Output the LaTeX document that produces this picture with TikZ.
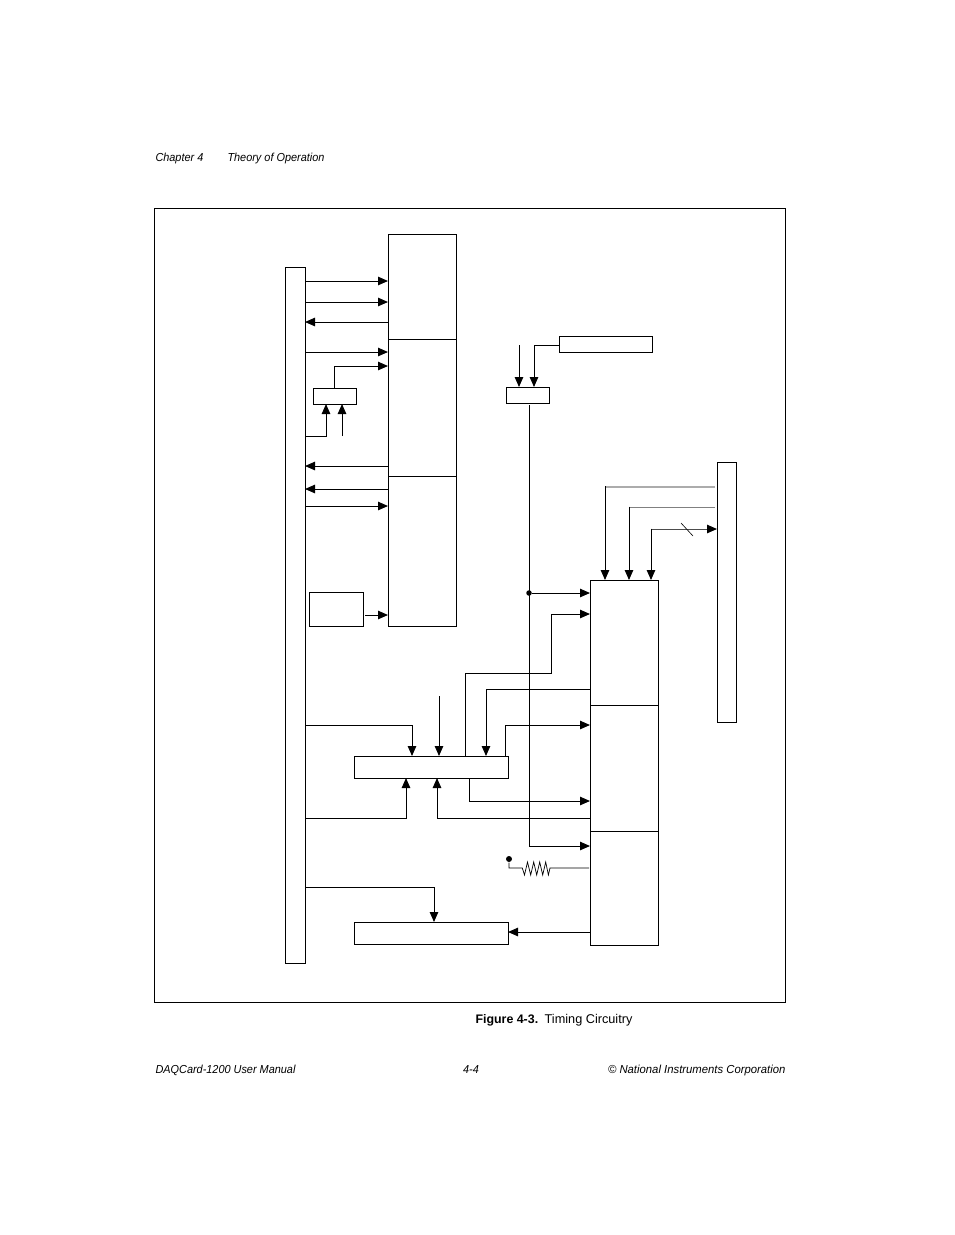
\documentclass[tikz,border=0pt]{standalone}
\usepackage{fontspec}
\setmainfont{Liberation Sans}
\newfontfamily\pagefont[FakeStretch=0.94]{Liberation Sans}
\newfontfamily\corpfont[FakeStretch=0.975]{Liberation Sans}
\usetikzlibrary{arrows.meta,positioning}
\tikzset{
  blk/.style={draw,inner sep=0pt,outer sep=0pt,anchor=north west},
  sig/.style={draw,line width=1pt,-{Triangle[length=10pt,width=8.5pt,color=black]}},
  wire/.style={draw,line width=1pt},
  pagetxt/.style={inner sep=0pt,font=\fontsize{11.6}{14}\pagefont\itshape},
}
\begin{document}
\begin{tikzpicture}[x=1pt,y=-1pt,line width=1pt]
\useasboundingbox (0,0) rectangle (954,1235);
% page texts
\node[pagetxt,anchor=base west] (chap) at (155,161) {Chapter 4};
\node[pagetxt,anchor=base west] (theory) at (227,161) {Theory of Operation};
\node[pagetxt,anchor=base west] (manual) at (155,1073) {DAQCard-1200 User Manual};
\node[pagetxt,anchor=base] (pageno) at (471,1073) {4-4};
\node[pagetxt,anchor=base east,font=\fontsize{11.6}{14}\corpfont\itshape] (corp) at (786,1073) {© National Instruments Corporation};
\node[inner sep=0pt,anchor=base west,font=\fontsize{12.7}{14}\selectfont] (cap) at (475,1023) {{\fontsize{12.4}{14}\selectfont\textbf{Figure 4-3.}}\hspace{6.5pt}Timing Circuitry};
% frame
\node[blk,minimum width=631pt,minimum height=794pt] (frame) at (154,208) {};
% blocks
\node[blk,minimum width=20pt,minimum height=696pt] (bus) at (285,267) {};
\node[blk,minimum width=68pt,minimum height=105pt] (ctrA) at (388,234) {};
\node[blk,minimum width=68pt,minimum height=137pt] (ctrB) at (388,339) {};
\node[blk,minimum width=68pt,minimum height=150pt] (ctrC) at (388,476) {};
\node[blk,minimum width=43pt,minimum height=16pt] (gateA) at (313,388) {};
\node[blk,minimum width=54pt,minimum height=34pt] (clk) at (309,592) {};
\node[blk,minimum width=43pt,minimum height=16pt] (gateB) at (506,387) {};
\node[blk,minimum width=93pt,minimum height=16pt] (osc) at (559,336) {};
\node[blk,minimum width=19pt,minimum height=260pt] (rbus) at (717,462) {};
\node[blk,minimum width=68pt,minimum height=125pt] (tmrA) at (590,580) {};
\node[blk,minimum width=68pt,minimum height=126pt] (tmrB) at (590,705) {};
\node[blk,minimum width=68pt,minimum height=114pt] (tmrC) at (590,831) {};
\node[blk,minimum width=154pt,minimum height=22pt] (logic) at (354,756) {};
\node[blk,minimum width=154pt,minimum height=22pt] (latch) at (354,922) {};
% bus to counters
\draw[sig] (bus.east |- 0,281) -- (ctrA.west |- 0,281);
\draw[sig] (bus.east |- 0,302) -- (ctrA.west |- 0,302);
\draw[sig] (ctrA.west |- 0,322) -- (bus.east |- 0,322);
\draw[sig] (bus.east |- 0,352) -- (ctrB.west |- 0,352);
\draw[sig] (gateA.north) |- (ctrB.west |- 0,366);
\draw[sig] (bus.east |- 0,436) -| (326,0 |- gateA.south);
\coordinate (gateAin) at (342,436);
\draw[sig] (gateAin) -- (gateAin |- gateA.south);
\draw[sig] (ctrB.west |- 0,466) -- (bus.east |- 0,466);
\draw[sig] (ctrC.west |- 0,489) -- (bus.east |- 0,489);
\draw[sig] (bus.east |- 0,506) -- (ctrC.west |- 0,506);
\draw[sig] ([xshift=2pt]clk.east |- 0,615) -- (ctrC.west |- 0,615);
% gate to timers
\coordinate (gateBin) at (519,345);
\draw[sig] (gateBin) -- (gateBin |- gateB.north);
\draw[sig] (osc.west |- gateBin) -| (534,0 |- gateB.north);
\coordinate (gateBout) at (529,405);
\draw[sig] (gateBout) |- (tmrC.west |- 0,846);
\node[circle,fill,inner sep=0pt,minimum size=5.5pt] (tap) at (529,593) {};
\draw[sig] (tap) -- (tmrA.west |- tap);
% right bus
\draw[wire,gray!65,line width=1.3pt] (715,487) -- (605,487);
\draw[sig] (605,486.4) -- (605,0 |- tmrA.north);
\draw[wire,gray] (715,507) -- (629,507);
\draw[sig] (629,506.5) -- (629,0 |- tmrA.north);
\draw[sig,black!70] (651,529) -- (rbus.west |- 0,529);
\draw[sig] (651,528.5) -- (651,0 |- tmrA.north);
\coordinate (slashA) at (681,523);
\coordinate (slashB) at (693,536);
\draw[wire,line width=0.6pt] (slashA) -- (slashB);
% logic block
\draw[sig] (465,0 |- logic.north) |- (551,673) |- (tmrA.west |- 0,614);
\draw[sig] (tmrA.west |- 0,689) -| (486,0 |- logic.north);
\draw[sig] (505,0 |- logic.north) |- (tmrB.west |- 0,725);
\draw[sig] (469,0 |- logic.south) |- (tmrB.west |- 0,801);
\draw[sig] (tmrB.west |- 0,818) -| (437,0 |- logic.south);
\draw[sig] (bus.east |- 0,725) -| (412,0 |- logic.north);
\coordinate (logicin) at (439,696);
\draw[sig] (logicin) -- (logicin |- logic.north);
\draw[sig] (bus.east |- 0,818) -| (406,0 |- logic.south);
% latch
\draw[sig] (bus.east |- 0,887) -| (434,0 |- latch.north);
\draw[sig] (tmrC.west |- 0,932) -- (latch.east |- 0,932);
% pull up
\node[circle,fill,inner sep=0pt,minimum size=6pt] (vcc) at (509,859) {};
\draw[wire,line width=0.7pt] (vcc) |- (522.3,868) -- (524.5,875) -- (527.5,862) -- (530.7,875) -- (533.7,862)
  -- (536.7,875) -- (539.7,862) -- (542.7,875) -- (545.7,862) -- (548.4,875) -- (550,868) -- (589,868);
\end{tikzpicture}
\end{document}
